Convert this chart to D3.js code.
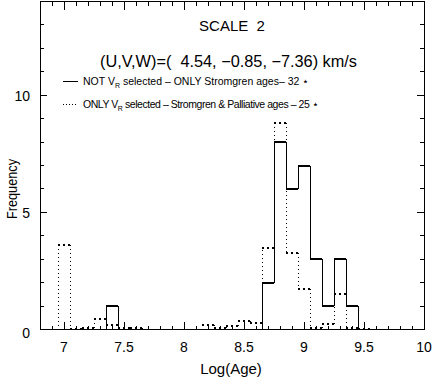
<!DOCTYPE html>
<html><head><meta charset="utf-8">
<script src="https://cdn.jsdelivr.net/npm/d3@7/dist/d3.min.js"></script>
<style>html,body{margin:0;padding:0;background:#fff;}svg{display:block;}text{font-family:"Liberation Sans",Arial,sans-serif;fill:#000;white-space:pre;}</style>
</head><body>
<script>
// ---- data ----
const binCenters = [6.9,7.0,7.1,7.2,7.3,7.4,7.5,7.6,7.7,7.8,7.9,8.0,8.1,8.2,8.3,8.4,8.5,8.6,8.7,8.8,8.9,9.0,9.1,9.2,9.3,9.4,9.5,9.6];
const solidCounts = [0,0,0,0,0,1,0,0,0,0,0,0,0,0,0,0,0,0,2,8,6,7,3,1,3,1,0,0];
const dottedCounts = [0,3.6,0.02,0.05,0.45,0.2,0.05,0.05,0,0,0,0,0,0.2,0.07,0.14,0.37,0.26,3.5,8.8,3.27,1.72,0.08,0.25,1.5,0.05,0.03,0];
const binWidth = 0.1;
const xTickLabels = [7,7.5,8,8.5,9,9.5,10];
const yTickLabels = [0,5,10];
const titleText = "SCALE  2";
const subtitleText = "(U,V,W)=(  4.54, \u22120.85, \u22127.36) km/s";

const W = 432, H = 387;
const svg = d3.select("body").append("svg").attr("width", W).attr("height", H);
const x = d3.scaleLinear().domain([6.8, 10]).range([40, 424]);
const y = d3.scaleLinear().domain([0, 14]).range([329.5, 1.5]);

const g = svg.append("g").attr("shape-rendering", "crispEdges");

function drawHist(vals, cls, hWidth, vWidth, hDash, vDash) {
  const grp = g.append("g").attr("class", cls).attr("stroke", "#000").attr("fill", "none");
  binCenters.forEach((c, i) => {
    if (vals[i] > 0) {
      grp.append("line")
        .attr("x1", x(c - binWidth/2)).attr("x2", x(c + binWidth/2))
        .attr("y1", y(vals[i])).attr("y2", y(vals[i]))
        .attr("stroke-width", hWidth).attr("stroke-dasharray", hDash);
    }
  });
  for (let i = 0; i <= binCenters.length; i++) {
    const prev = i > 0 ? vals[i-1] : 0;
    const cur = i < binCenters.length ? vals[i] : 0;
    if (prev !== cur) {
      const ex = i < binCenters.length ? binCenters[i] - binWidth/2 : binCenters[i-1] + binWidth/2;
      grp.append("line")
        .attr("x1", x(ex)).attr("x2", x(ex))
        .attr("y1", y(prev)).attr("y2", y(cur))
        .attr("stroke-width", vWidth).attr("stroke-dasharray", vDash);
    }
  }
}
drawHist(dottedCounts, "dotted", 2, 1, "2,3", "1,3");
drawHist(solidCounts, "solid", 2, 1, null, null);

g.append("rect").attr("x", x(6.8)).attr("y", y(14)).attr("width", x(10) - x(6.8)).attr("height", y(0) - y(14))
  .attr("fill", "none").attr("stroke", "#000").attr("stroke-width", 1);

const xMinor = d3.range(68, 101).map(v => v / 10);
xMinor.forEach(v => {
  const major = Math.abs(v * 2 - Math.round(v * 2)) < 1e-6;
  const len = major ? 8 : 4;
  g.append("line").attr("x1", x(v)).attr("x2", x(v)).attr("y1", y(0)).attr("y2", y(0) - len).attr("stroke", "#000");
  g.append("line").attr("x1", x(v)).attr("x2", x(v)).attr("y1", y(14)).attr("y2", y(14) + len).attr("stroke", "#000");
});
d3.range(0, 15).forEach(v => {
  const len = v % 5 === 0 ? 7 : 4;
  g.append("line").attr("x1", x(6.8)).attr("x2", x(6.8) + len).attr("y1", y(v)).attr("y2", y(v)).attr("stroke", "#000");
  g.append("line").attr("x1", x(10)).attr("x2", x(10) - len).attr("y1", y(v)).attr("y2", y(v)).attr("stroke", "#000");
});

svg.selectAll("text.xt").data(xTickLabels).enter().append("text").attr("class", "xt")
  .attr("x", d => x(d)).attr("y", 352).attr("text-anchor", "middle").attr("font-size", 14)
  .text(d => d);
svg.selectAll("text.yt").data(yTickLabels).enter().append("text").attr("class", "yt")
  .attr("x", 30).attr("y", d => y(d) + 6 + (d === 0 ? 2 : 0)).attr("text-anchor", "end").attr("font-size", 14)
  .text(d => d);

svg.append("text").attr("x", 231).attr("y", 374).attr("text-anchor", "middle").attr("font-size", 15).text("Log(Age)");
svg.append("text").attr("transform", "translate(17,189) rotate(-90)").attr("text-anchor", "middle")
  .attr("font-size", 15).attr("textLength", 60).attr("lengthAdjust", "spacingAndGlyphs").text("Frequency");

svg.append("text").attr("x", 232).attr("y", 31).attr("text-anchor", "middle").attr("font-size", 15).text(titleText);
svg.append("text").attr("x", 100).attr("y", 67).attr("font-size", 16)
  .attr("textLength", 257).attr("lengthAdjust", "spacingAndGlyphs").text(subtitleText);

// legend
const legFont = '"Liberation Sans Narrow","Liberation Sans",sans-serif';
function legendText(yb, pre, post, spacing) {
  const t = svg.append("text").attr("x", 83).attr("y", yb).attr("font-size", 10.5)
    .style("font-family", legFont).style("letter-spacing", spacing + "px");
  t.append("tspan").text(pre);
  t.append("tspan").attr("font-size", 7).attr("dy", 3).text("R");
  t.append("tspan").attr("dy", -3).text(post);
}
legendText(85, "NOT V", " selected \u2013 ONLY Stromgren ages\u2013 32 \u22c6", 0);
legendText(108, "ONLY V", " selected \u2013 Stromgren & Palliative ages \u2013 25 \u22c6", -0.45);

g.append("line").attr("x1", 63).attr("x2", 78).attr("y1", 81.5).attr("y2", 81.5).attr("stroke", "#000");
g.append("line").attr("x1", 63).attr("x2", 78).attr("y1", 104.5).attr("y2", 104.5).attr("stroke", "#000").attr("stroke-dasharray", "1,2");
</script>
</body></html>
